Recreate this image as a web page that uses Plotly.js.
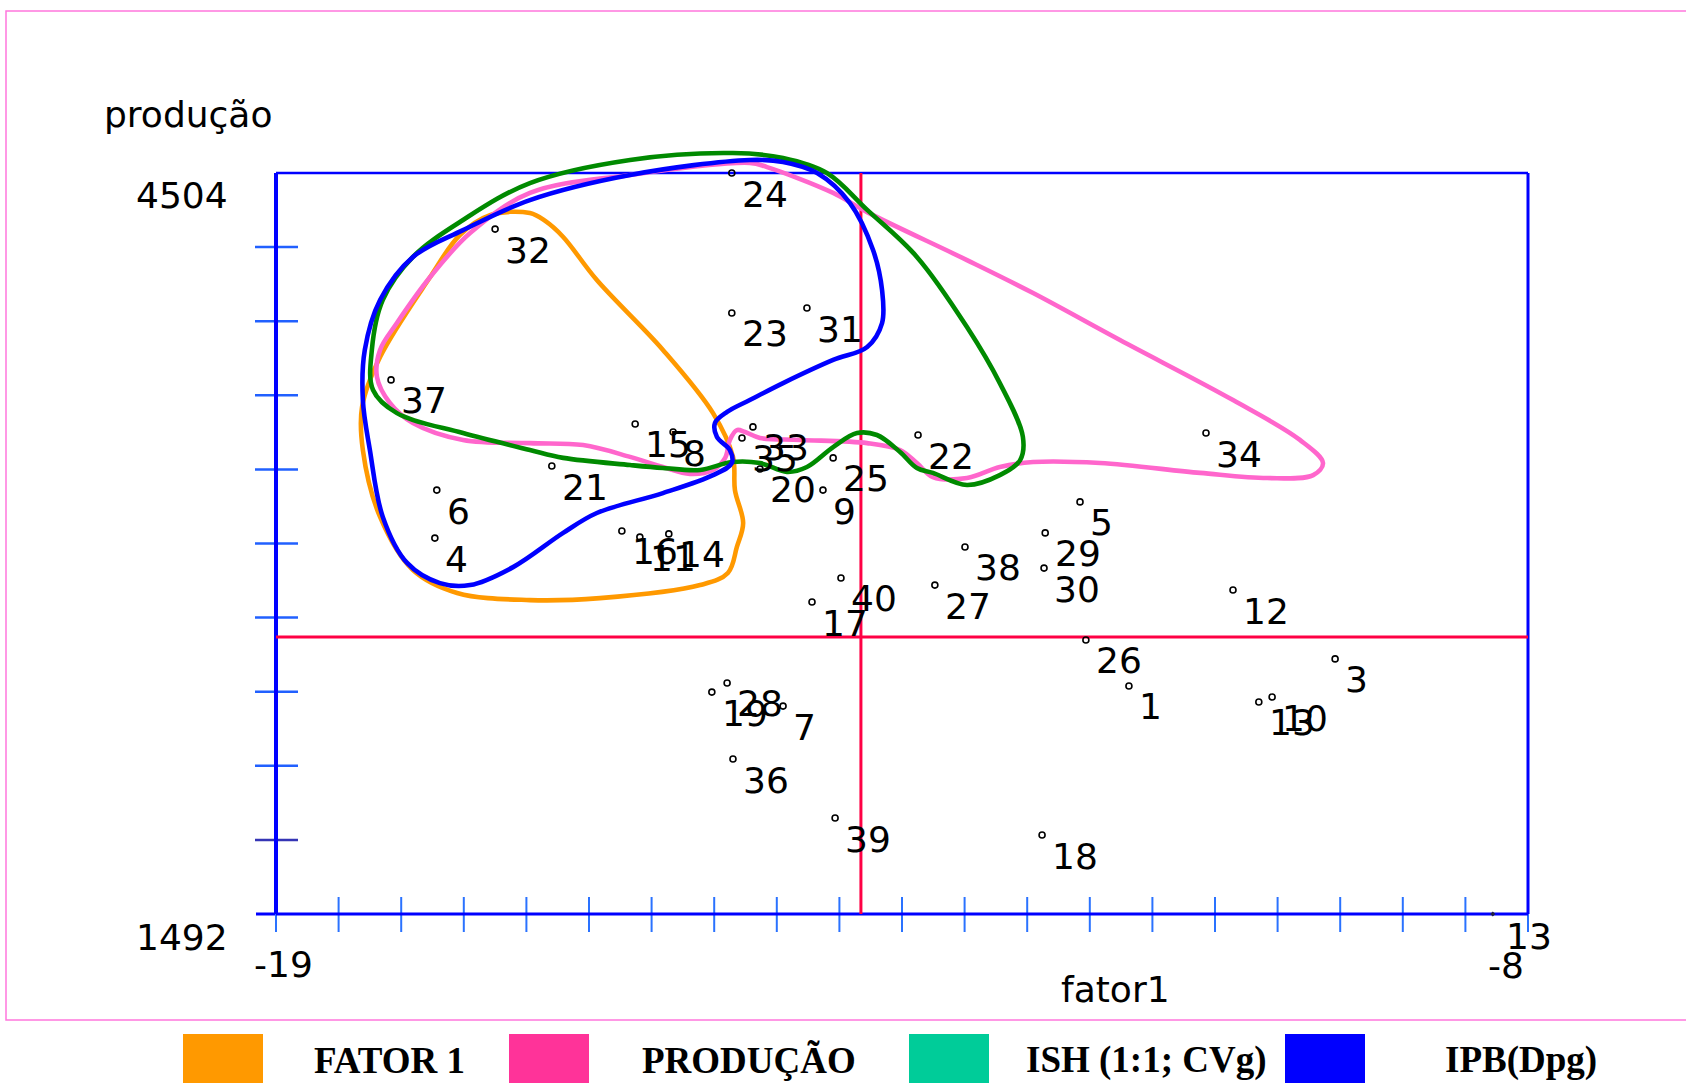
<!DOCTYPE html>
<html>
<head>
<meta charset="utf-8">
<script src="https://cdn.plot.ly/plotly-3.0.1.min.js"></script>
<style>
  html, body { margin: 0; padding: 0; background: #ffffff; }
  #grafico { width: 1686px; height: 1083px; }
</style>
</head>
<body>
<div id="grafico"></div>
<script>
// Genótipos: rótulo, escore no fator 1 e produção
const pontos = ['1','3','4','5','6','7','8','9','10','11','12','13','14','15','16','17','18','19','20',
  '21','22','23','24','25','26','27','28','29','30','31','32','33','34','35','36','37','38','39','40'];
const fator1 = [2.80, 8.07, -14.94, 1.55, -14.89, -6.04, -8.85, -5.02, 6.46, -9.70, 5.46, 6.12, -8.96,
  -9.82, -10.16, -5.30, 0.58, -7.86, -6.63, -11.95, -2.59, -7.35, -7.35, -4.76, 1.70, -2.16, -7.47,
  0.66, 0.63, -5.43, -13.40, -6.81, 4.77, -7.09, -7.32, -16.06, -1.39, -4.71, -4.56];
const producao = [2419, 2529, 3020, 3167, 3215, 2337, 3451, 3215, 2374, 3024, 2809, 2354, 3037,
  3484, 3049, 2760, 1813, 2394, 3301, 3313, 3439, 3935, 4504, 3346, 2606, 2829, 2431,
  3041, 2898, 3955, 4276, 3472, 3447, 3427, 2122, 3663, 2984, 1882, 2858];

// Médias (linhas de referência)
const mediaFator1 = -4.05;
const mediaProducao = 2618;

// Limites e marcas dos eixos
const fator1Min = -19, fator1Max = 13;
const producaoMin = 1492, producaoMax = 4504;
const passoFator1 = 1.6, passoProducao = 301.2;
const rotulosProducao = ['1492', '4504'];
const rotulosFator1 = ['-19', '13'];
const rotuloExtra = '-8';
const marcaExtra = {x: 12.1, y: 1492};

// Contornos dos grupos de seleção
const grupoFatorX = [-12.51, -12.12, -11.66, -10.80, -9.11, -7.83, -7.32, -7.27, -7.06, -7.22, -7.45, -8.16,
  -10.72, -12.51, -14.37, -15.50, -16.34, -16.78, -16.80, -16.34, -15.06, -14.30, -13.53, -12.51];
const grupoFatorY = [4341, 4309, 4244, 4069, 3785, 3528, 3350, 3215, 3081, 2984, 2878, 2829,
  2776, 2768, 2797, 2890, 3106, 3378, 3553, 3756, 4081, 4252, 4333, 4341];

const grupoProducaoX = [-14.04, -12.51, -9.95, -6.89, -6.45, -4.76, -3.89, -1.34, 0.35, 2.57, 5.46, 7.17, 7.76,
  7.51, 6.33, 4.62, 2.06, 0.35, -0.50, -1.34, -2.21, -2.62, -3.05, -3.89, -5.61, -6.63, -7.01, -7.22,
  -7.40, -7.52, -7.83, -8.42, -9.11, -9.95, -11.15, -12.51, -14.22, -15.50, -16.09, -16.42, -16.34,
  -15.91, -15.06, -14.04];
const grupoProducaoY = [4260, 4423, 4496, 4545, 4528, 4423, 4345, 4150, 4016, 3825, 3581, 3419, 3325,
  3276, 3264, 3285, 3325, 3329, 3309, 3264, 3268, 3325, 3378, 3406, 3419, 3427, 3451, 3459,
  3419, 3346, 3297, 3281, 3309, 3350, 3398, 3406, 3419, 3488, 3569, 3675, 3785,
  3894, 4081, 4260];

const grupoIshX = [-7.32, -6.04, -4.92, -3.89, -2.62, -1.34, -0.50, 0.09, 0.02, -0.50, -1.34, -2.21, -2.62,
  -3.05, -3.64, -4.15, -4.76, -5.43, -5.94, -6.63, -7.35, -8.16, -9.11, -9.95, -11.66, -12.51, -14.22,
  -15.91, -16.52, -16.55, -16.27, -15.50, -14.22, -12.51, -9.95, -7.32];
const grupoIshY = [4585, 4565, 4504, 4354, 4163, 3878, 3650, 3431, 3337, 3276, 3236, 3285, 3305,
  3370, 3439, 3447, 3390, 3309, 3289, 3325, 3329, 3297, 3305, 3317, 3346, 3378, 3447,
  3528, 3622, 3785, 3988, 4163, 4313, 4463, 4557, 4585];

const grupoIpbX = [-6.89, -6.04, -5.17, -4.33, -3.74, -3.51, -3.51, -3.89, -4.76, -6.04, -6.89, -7.47, -7.78,
  -7.73, -7.40, -7.35, -7.83, -9.11, -10.80, -11.66, -12.94, -14.04, -14.81, -15.65, -16.27, -16.60,
  -16.78, -16.73, -16.34, -15.50, -14.22, -12.51, -9.95, -6.89];
const grupoIpbY = [4557, 4549, 4504, 4382, 4191, 4028, 3894, 3797, 3744, 3650, 3581, 3533, 3488,
  3431, 3378, 3325, 3276, 3203, 3122, 3041, 2902, 2829, 2837, 2919, 3106, 3378,
  3581, 3785, 3988, 4163, 4272, 4394, 4496, 4557];

// Legenda
const legendaNomes = ['FATOR 1', 'PRODUÇÃO', 'ISH (1:1; CVg)', 'IPB(Dpg)'];
const legendaCores = ['#ff9900', '#ff3399', '#00cc99', '#0000ff'];
const contornoCores = ['#ff9900', '#ff66cc', '#008a00', '#0000ff'];

// Geometria da página (pixels)
const W = 1686, H = 1083;
const M = {l: 276, r: 158, t: 137, b: 169};
const plotW = W - M.l - M.r, plotH = H - M.t - M.b;
const yTopo = producaoMin + (producaoMax - producaoMin) * plotH / 741;
const px = v => (v - M.l) / plotW;
const py = v => (H - M.b - v) / plotH;
// posição relativa (papel) de um valor nos eixos, para os enfeites do quadro
const papelX = v => (v - fator1Min) / (fator1Max - fator1Min);
const papelY = v => (v - producaoMin) / (yTopo - producaoMin);
const pxPapelX = 1 / plotW, pxPapelY = 1 / plotH;

const fonteRotulo = {family: 'DejaVu Sans', size: 36, color: '#000000'};

const contornos = [
  [grupoFatorX, grupoFatorY], [grupoProducaoX, grupoProducaoY],
  [grupoIshX, grupoIshY], [grupoIpbX, grupoIpbY]
];
const traces = contornos.map((c, i) => ({
  type: 'scatter', mode: 'lines', x: c[0], y: c[1], name: legendaNomes[i],
  line: {color: contornoCores[i], width: 4.6, shape: 'spline', smoothing: 1.0},
  hoverinfo: 'skip', showlegend: false
}));
traces.push({
  type: 'scatter', mode: 'markers', x: fator1, y: producao, text: pontos,
  marker: {symbol: 'circle-open', size: 6, color: '#000000', line: {width: 1.6, color: '#000000'}},
  showlegend: false, cliponaxis: false
});
traces.push({
  type: 'scatter', mode: 'markers', x: [marcaExtra.x], y: [marcaExtra.y],
  marker: {symbol: 'diamond', size: 4, color: '#202040'}, showlegend: false, cliponaxis: false
});

const shapes = [];
const azul = '#0000ff';
const linhaPapel = (x0, x1, y0, y1, cor, w) => ({type: 'line', xref: 'paper', yref: 'paper',
  x0, x1, y0, y1, line: {color: cor, width: w}, layer: 'below'});
// moldura rosa externa
shapes.push({type: 'rect', xref: 'paper', yref: 'paper', x0: px(6), x1: px(1700), y0: py(1020), y1: py(11),
  line: {color: '#ff77dd', width: 1.5}, layer: 'below'});
// linhas das médias
shapes.push({type: 'line', xref: 'x', yref: 'y', x0: mediaFator1, x1: mediaFator1, y0: producaoMin, y1: producaoMax,
  line: {color: '#ff0044', width: 3}, layer: 'below'});
shapes.push({type: 'line', xref: 'x', yref: 'y', x0: fator1Min, x1: fator1Max, y0: mediaProducao, y1: mediaProducao,
  line: {color: '#ff0044', width: 3}, layer: 'below'});
// marcas do eixo de produção (cruzando o eixo)
const nY = Math.round((producaoMax - producaoMin) / passoProducao);
for (let k = 1; k < nY; k++) {
  const v = papelY(producaoMin + k * passoProducao);
  shapes.push(linhaPapel(-21 * pxPapelX, 22 * pxPapelX, v, v, k === 1 ? '#3535b5' : '#2160ff', 2.5));
}
shapes.push(linhaPapel(-20 * pxPapelX, 0, 0, 0, azul, 3));
// marcas do eixo do fator 1 (cruzando o eixo)
const nX = Math.round((fator1Max - fator1Min) / passoFator1);
for (let k = 0; k <= nX; k++) {
  const v = papelX(fator1Min + k * passoFator1);
  shapes.push(linhaPapel(v, v, -18 * pxPapelY, 17 * pxPapelY, '#2a72ff', 2));
}
// eixos em caixa
const xa = papelX(fator1Min), xb = papelX(fator1Max);
const ya = papelY(producaoMin), yb = papelY(producaoMax);
shapes.push(linhaPapel(xa, xb, yb, yb, azul, 2.5));
shapes.push(linhaPapel(xb, xb, ya, yb, azul, 3));
shapes.push(linhaPapel(xa, xb, ya, ya, azul, 3));
shapes.push(linhaPapel(xa, xa, ya, yb, azul, 4));
// quadrados da legenda
const legendaCaixaX = [183, 509, 909, 1285];
const legendaTextoX = [312, 640, 1024, 1443];
legendaCores.forEach((c, i) => {
  shapes.push({type: 'rect', xref: 'paper', yref: 'paper', x0: px(legendaCaixaX[i]), x1: px(legendaCaixaX[i] + 80),
    y0: py(1090), y1: py(1034), fillcolor: c, line: {width: 0}});
});

const annotations = pontos.map((p, i) => ({
  x: fator1[i], y: producao[i], xref: 'x', yref: 'y', text: p, showarrow: false,
  xanchor: 'left', yanchor: 'middle', xshift: 8, yshift: -21, font: fonteRotulo
}));
annotations.push(
  {x: fator1Min, y: producaoMax, xref: 'x', yref: 'y', text: rotulosProducao[1], showarrow: false,
    xanchor: 'right', yanchor: 'middle', xshift: -46, yshift: -22, font: fonteRotulo},
  {x: fator1Min, y: producaoMin, xref: 'x', yref: 'y', text: rotulosProducao[0], showarrow: false,
    xanchor: 'right', yanchor: 'middle', xshift: -46, yshift: -23, font: fonteRotulo},
  {x: fator1Min, y: producaoMin, xref: 'x', yref: 'y', text: rotulosFator1[0], showarrow: false,
    xanchor: 'center', yanchor: 'middle', xshift: 7, yshift: -50, font: fonteRotulo},
  {x: fator1Max, y: producaoMin, xref: 'x', yref: 'y', text: rotulosFator1[1], showarrow: false,
    xanchor: 'center', yanchor: 'middle', xshift: 1, yshift: -22, font: fonteRotulo},
  {x: fator1Max, y: producaoMin, xref: 'x', yref: 'y', text: rotuloExtra, showarrow: false,
    xanchor: 'center', yanchor: 'middle', xshift: -22, yshift: -51, font: fonteRotulo},
  {x: px(102), y: py(115), xref: 'paper', yref: 'paper', text: 'produção', showarrow: false,
    xanchor: 'left', yanchor: 'middle', font: fonteRotulo},
  {x: px(1115), y: py(989), xref: 'paper', yref: 'paper', text: 'fator1', showarrow: false,
    xanchor: 'center', yanchor: 'middle', font: fonteRotulo}
);
legendaNomes.forEach((n, i) => {
  annotations.push({x: px(legendaTextoX[i]), y: py(1083), xref: 'paper', yref: 'paper', text: '<b>' + n + '</b>',
    showarrow: false, xanchor: 'left', yanchor: 'bottom',
    font: {family: 'Liberation Serif', size: 37, color: '#000000'}});
});

const layout = {
  width: W, height: H,
  margin: {l: M.l, r: M.r, t: M.t, b: M.b, pad: 0},
  paper_bgcolor: '#ffffff', plot_bgcolor: '#ffffff',
  showlegend: false,
  xaxis: {range: [fator1Min, fator1Max], showgrid: false, zeroline: false, showline: false,
    showticklabels: false, ticks: ''},
  yaxis: {range: [producaoMin, yTopo], showgrid: false, zeroline: false, showline: false,
    showticklabels: false, ticks: ''},
  shapes: shapes,
  annotations: annotations
};

Plotly.newPlot('grafico', traces, layout, {displayModeBar: false, staticPlot: true});
</script>
</body>
</html>
